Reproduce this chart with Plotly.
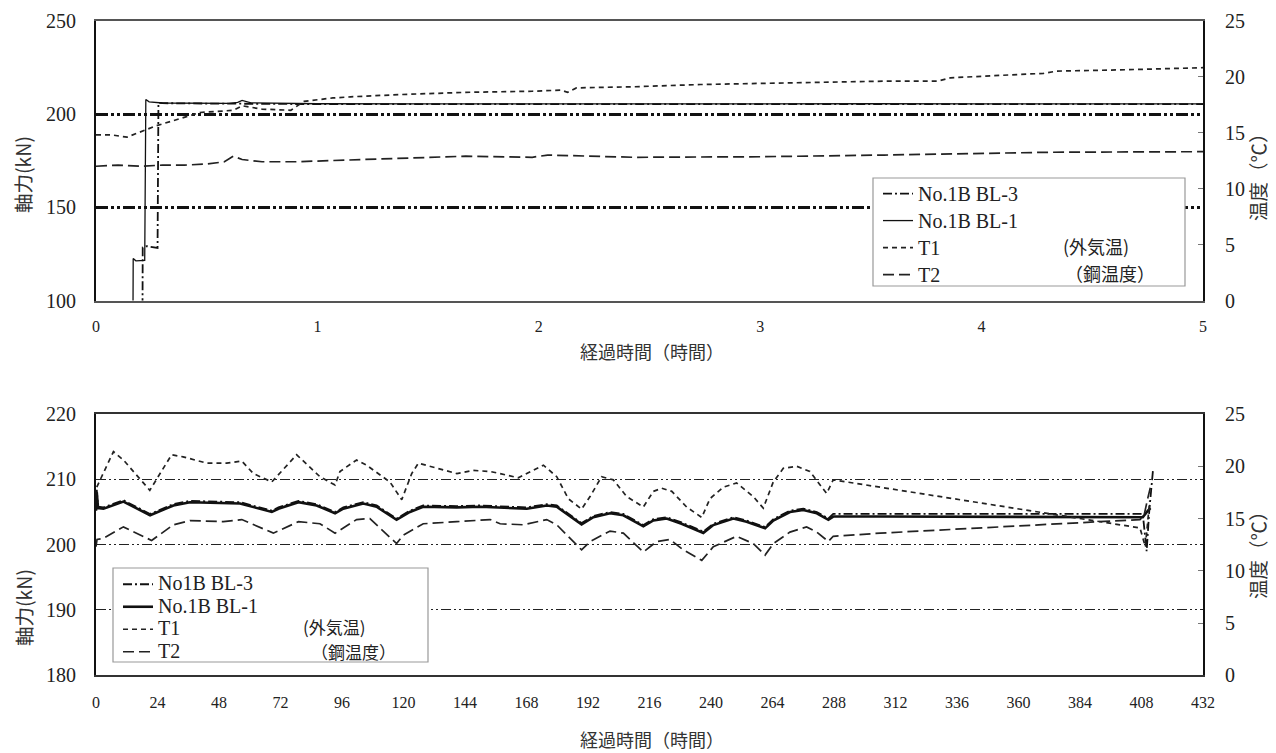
import plotly.graph_objects as go

# The page body has an 8px margin: the figure is sized so page == 1276x753 window.
PAGE_W, PAGE_H = 1276, 753
OFF = 8
W, H = PAGE_W - OFF, PAGE_H - OFF

# ---------------- Top chart (0-5 hours) ----------------
top_bl3_hours = [0.209, 0.211, 0.23, 0.26, 0.278, 0.282, 0.30, 0.5, 0.7, 1.0, 2.0, 3.0, 4.0, 5.0]
top_bl3_kn = [60, 128.5, 129.2, 128.5, 128.2, 206.0, 205.8, 205.6, 205.5, 205.3, 205.3, 205.2, 205.3, 205.3]

top_bl1_hours = [0.166, 0.168, 0.18, 0.20, 0.22, 0.225, 0.24, 0.30, 0.45, 0.60, 0.64, 0.66, 0.70,
                 0.80, 0.90, 1.0, 1.5, 2.0, 2.5, 3.0, 3.5, 4.0, 4.5, 5.0]
top_bl1_kn = [60, 122.6, 121.3, 121.3, 121.5, 207.8, 206.5, 205.9, 205.8, 205.7, 206.2, 207.3, 206.0,
              205.7, 205.4, 205.5, 205.4, 205.5, 205.4, 205.4, 205.5, 205.4, 205.5, 205.4]

top_t1_hours = [0, 0.07, 0.14, 0.27, 0.42, 0.47, 0.55, 0.62, 0.66, 0.75, 0.88, 0.94, 1.07, 1.15,
                1.37, 1.67, 1.97, 2.10, 2.13, 2.17, 2.43, 2.73, 3.0, 3.26, 3.56, 3.80, 3.86, 4.28,
                4.34, 4.61, 5.0]
top_t1_c = [14.8, 14.8, 14.6, 15.6, 16.5, 16.8, 16.9, 17.0, 17.4, 17.1, 17.0, 17.8, 18.1, 18.2,
            18.4, 18.6, 18.7, 18.8, 18.6, 19.0, 19.1, 19.3, 19.4, 19.5, 19.6, 19.6, 19.9, 20.3,
            20.5, 20.6, 20.8]

top_t2_hours = [0, 0.1, 0.2, 0.3, 0.4, 0.5, 0.58, 0.62, 0.66, 0.75, 0.9, 1.22, 1.52, 1.67, 1.97,
                2.04, 2.43, 3.0, 3.56, 4.31, 5.0]
top_t2_c = [12.0, 12.1, 12.0, 12.1, 12.1, 12.2, 12.4, 12.9, 12.6, 12.4, 12.4, 12.6, 12.8, 12.9, 12.8,
            13.0, 12.8, 12.85, 13.0, 13.25, 13.3]

top_x_ticks = [0, 1, 2, 3, 4, 5]
top_y_ticks = [100, 150, 200, 250]
temp_ticks = [0, 5, 10, 15, 20, 25]

# ---------------- Bottom chart (0-432 hours) ----------------
bot_bl1_hours = [0, 0.3, 0.8, 2.9, 10.7, 21.1, 30.2, 36.7, 56.2, 68.6, 71.2, 79, 86.1, 93.3, 96.5,
                 104.3, 109.5, 117.3, 122.5, 127.7, 140.8, 150, 168.1, 175.9, 179.8, 189.5, 194.1,
                 200.6, 205.8, 213.6, 217.5, 222.7, 228.5, 237, 240.9, 248.7, 253.9, 261.1, 264.3,
                 270.8, 276, 281.3, 285.8, 287.7, 306, 408.5, 410.5, 411.5]
bot_bl1_kn = [205.2, 208.0, 205.6, 205.5, 206.6, 204.5, 206.0, 206.5, 206.3, 205.0, 205.5, 206.5,
              206.0, 204.8, 205.5, 206.3, 205.8, 203.8, 205.0, 205.8, 205.7, 205.8, 205.5, 206.0,
              205.8, 203.1, 204.2, 204.8, 204.5, 202.8, 203.7, 204.0, 203.2, 201.8, 203.0, 204.0,
              203.5, 202.5, 203.7, 205.0, 205.3, 204.8, 203.8, 204.3, 204.3, 204.2, 205.2, 205.6]

bot_bl3_hours = [0, 0.3, 0.8, 2.9, 10.7, 21.1, 30.2, 36.7, 56.2, 68.6, 71.2, 79, 86.1, 93.3, 96.5,
                 104.3, 109.5, 117.3, 122.5, 127.7, 140.8, 150, 168.1, 175.9, 179.8, 189.5, 194.1,
                 200.6, 205.8, 213.6, 217.5, 222.7, 228.5, 237, 240.9, 248.7, 253.9, 261.1, 264.3,
                 270.8, 276, 281.3, 285.8, 287.7, 306, 408.5, 410, 411, 412.5]
bot_bl3_kn = [205.5, 208.4, 205.8, 205.7, 206.8, 204.7, 206.2, 206.7, 206.5, 205.2, 205.7, 206.7,
              206.2, 205.0, 205.7, 206.5, 206.0, 204.0, 205.2, 206.0, 205.9, 206.0, 205.7, 206.2,
              206.0, 203.3, 204.4, 205.0, 204.7, 203.0, 203.9, 204.2, 203.4, 202.0, 203.2, 204.2,
              203.7, 202.7, 203.9, 205.2, 205.5, 205.0, 204.0, 204.7, 204.7, 204.7, 199.0, 205.0,
              211.5]

bot_t1_hours = [0.3, 6.8, 10.7, 21, 29.5, 34, 43.2, 51, 56.9, 61.4, 68.6, 78.3, 87.4, 93.3, 95.2,
                101.7, 105.6, 114.7, 119.3, 123.2, 125.8, 133, 140.8, 147.2, 153.8, 157.7, 164.8,
                174.6, 179.8, 184.3, 189.5, 192.8, 197.3, 201.9, 207.1, 213.6, 217.5, 220.8, 224.7,
                230.5, 236.4, 239.6, 244.8, 250, 256.5, 260.4, 264.3, 268.2, 273.4, 278.6, 285.1,
                287.7, 407.4, 409.5, 410.5, 411.2]
bot_t1_c = [18.0, 21.4, 20.6, 17.7, 21.1, 20.9, 20.3, 20.3, 20.5, 19.3, 18.5, 21.1, 19.0, 18.2, 19.5,
            20.6, 20.1, 18.5, 16.8, 19.3, 20.3, 19.8, 19.3, 19.6, 19.5, 19.3, 18.9,
            20.1, 19.0, 16.9, 15.9, 17.1, 19.0, 18.7, 17.1, 16.1, 17.6, 17.9, 17.6,
            16.1, 15.1, 16.9, 18.0, 18.4, 17.1, 16.0, 18.5, 19.8, 20.0, 19.5, 17.4,
            18.7, 14.1, 12.3, 15.0, 16.7]

bot_t2_hours = [0, 0.4, 2.9, 10.7, 21.7, 30.2, 36.7, 49.7, 56.9, 61.4, 69.2, 79, 87.4, 93.3, 101.7,
                106.9, 117.3, 119.9, 127.7, 140.8, 153.8, 157.7, 166.8, 175.9, 179.8, 189.5,
                192.8, 200.6, 205.8, 213.6, 218.8, 224, 229.2, 236.4, 240.9, 250, 256.5, 261.1,
                264.3, 270.8, 277.3, 281.3, 285.8, 287.7, 306, 407.4, 409, 410.5, 411.5]
bot_t2_c = [12.3, 13.0, 13.1, 14.2, 12.9, 14.4, 14.8, 14.7, 14.9, 14.4, 13.6, 14.7, 14.5, 13.6, 14.9,
            15.0, 12.6, 13.4, 14.5, 14.7, 14.9, 14.5, 14.4, 14.9, 14.4, 12.0,
            12.8, 13.8, 13.6, 11.8, 12.8, 13.0, 12.0, 11.0, 12.3, 13.3, 12.6, 11.5,
            12.6, 13.7, 14.2, 13.7, 12.8, 13.3, 13.6, 14.9, 15.3, 17.0, 18.0]

bot_x_ticks = list(range(0, 433, 24))
bot_y_ticks = [180, 190, 200, 210, 220]

legend_names_top = ["No.1B BL-3", "No.1B BL-1", "T1", "T2"]
legend_names_bot = ["No1B BL-3", "No.1B BL-1", "T1", "T2"]
legend_notes = ["(外気温)", "（鋼温度）"]

x_title = "経過時間（時間）"
y_title_left = "軸力(kN)"
y_title_right = "温度（℃）"

# ---------------- helpers (page pixel -> paper fraction) ----------------
def fx(px):
    return (px - OFF) / W

def fy(py):
    return 1 - (py - OFF) / H

def big(name):
    return '<span style="font-size:20px">' + name + '</span>'

SERIF = "Liberation Serif, Times New Roman, serif"
CJK = "Noto Sans CJK JP, sans-serif"
INK = "#222222"

BL3_DASH = "9px,3px,2px,3px"
T1_DASH = "5px,4px"
T2_DASH = "11px,5px"

fig = go.Figure()

# top traces
fig.add_trace(go.Scatter(x=top_bl3_hours, y=top_bl3_kn, mode="lines", name=big(legend_names_top[0]),
                         line=dict(color="#111111", width=1.8, dash=BL3_DASH),
                         xaxis="x", yaxis="y", legend="legend"))
fig.add_trace(go.Scatter(x=top_bl1_hours, y=top_bl1_kn, mode="lines", name=big(legend_names_top[1]),
                         line=dict(color="#111111", width=1.3),
                         xaxis="x", yaxis="y", legend="legend"))
fig.add_trace(go.Scatter(x=top_t1_hours, y=top_t1_c, mode="lines", name=big(legend_names_top[2]),
                         line=dict(color="#222222", width=1.7, dash=T1_DASH),
                         xaxis="x", yaxis="y2", legend="legend"))
fig.add_trace(go.Scatter(x=top_t2_hours, y=top_t2_c, mode="lines", name=big(legend_names_top[3]),
                         line=dict(color="#222222", width=1.7, dash=T2_DASH),
                         xaxis="x", yaxis="y2", legend="legend"))

# bottom traces
fig.add_trace(go.Scatter(x=bot_bl3_hours, y=bot_bl3_kn, mode="lines", name=big(legend_names_bot[0]),
                         line=dict(color="#111111", width=1.8, dash=BL3_DASH),
                         xaxis="x2", yaxis="y3", legend="legend2"))
fig.add_trace(go.Scatter(x=bot_bl1_hours, y=bot_bl1_kn, mode="lines", name=big(legend_names_bot[1]),
                         line=dict(color="#111111", width=2.6),
                         xaxis="x2", yaxis="y3", legend="legend2"))
fig.add_trace(go.Scatter(x=bot_t1_hours, y=bot_t1_c, mode="lines", name=big(legend_names_bot[2]),
                         line=dict(color="#222222", width=1.7, dash=T1_DASH),
                         xaxis="x2", yaxis="y4", legend="legend2"))
fig.add_trace(go.Scatter(x=bot_t2_hours, y=bot_t2_c, mode="lines", name=big(legend_names_bot[3]),
                         line=dict(color="#222222", width=1.7, dash=T2_DASH),
                         xaxis="x2", yaxis="y4", legend="legend2"))

XDOM = [fx(96), fx(1203)]
TOP_DOM = [fy(300.6), fy(20.7)]
BOT_DOM = [fy(675.3), fy(414)]

tick_x_font = dict(family=SERIF, size=16, color=INK)
tick_y_font = dict(family=SERIF, size=20, color=INK)

fig.update_layout(
    width=W, height=H,
    margin=dict(l=0, r=0, t=0, b=0, pad=0, autoexpand=False),
    paper_bgcolor="white", plot_bgcolor="white",
    showlegend=True,
    xaxis=dict(domain=XDOM, anchor="y", range=[0, 5], tickmode="array", tickvals=top_x_ticks,
               showgrid=False, zeroline=False, showline=True, mirror=True, automargin=False,
               linecolor="#555555", linewidth=1.5, ticks="", tickfont=tick_x_font,
               ticklabelstandoff=10),
    yaxis=dict(domain=TOP_DOM, anchor="x", range=[100, 250], tickmode="array", tickvals=top_y_ticks,
               showgrid=True, gridcolor="#111111", gridwidth=2.6,
               griddash="12px,3px,3px,3px,3px,3px", automargin=False,
               zeroline=False, showline=True, linecolor="#111111", linewidth=2,
               ticks="", tickfont=tick_y_font, ticklabelstandoff=14),
    yaxis2=dict(overlaying="y", side="right", anchor="x", range=[0, 25], tickmode="array",
                tickvals=temp_ticks, showgrid=False, zeroline=False, showline=True, automargin=False,
                linecolor="#111111", linewidth=2, ticks="inside", ticklen=5, tickcolor="#777777",
                tickfont=tick_y_font, ticklabelstandoff=16),
    xaxis2=dict(domain=XDOM, anchor="y3", range=[0, 432], tickmode="array", tickvals=bot_x_ticks,
                showgrid=False, zeroline=False, showline=True, mirror=True, automargin=False,
                linecolor="#333333", linewidth=2, ticks="", tickfont=tick_x_font,
                ticklabelstandoff=11),
    yaxis3=dict(domain=BOT_DOM, anchor="x2", range=[180, 220], tickmode="array", tickvals=bot_y_ticks,
                showgrid=True, gridcolor="#222222", gridwidth=1.2,
                griddash="10px,3px,2px,3px,2px,3px", automargin=False,
                zeroline=False, showline=True, linecolor="#111111", linewidth=2,
                ticks="", tickfont=tick_y_font, ticklabelstandoff=14),
    yaxis4=dict(overlaying="y3", side="right", anchor="x2", range=[0, 25], tickmode="array",
                tickvals=temp_ticks, showgrid=False, zeroline=False, showline=True, automargin=False,
                linecolor="#111111", linewidth=2, ticks="inside", ticklen=5, tickcolor="#777777",
                tickfont=tick_y_font, ticklabelstandoff=16),
    legend=dict(x=fx(878), y=fy(175), xanchor="left", yanchor="top", bgcolor="rgba(0,0,0,0)",
                borderwidth=0, font=dict(family=SERIF, size=18.5, color=INK), itemwidth=30,
                tracegroupgap=0),
    legend2=dict(x=fx(118), y=fy(568), xanchor="left", yanchor="top", bgcolor="rgba(0,0,0,0)",
                 borderwidth=0, font=dict(family=SERIF, size=15, color=INK), itemwidth=30,
                 tracegroupgap=0),
)

# legend boxes (white fill hides the dashed grid behind)
fig.add_shape(type="rect", xref="paper", yref="paper", x0=fx(873), x1=fx(1185), y0=fy(286), y1=fy(178),
              line=dict(color="#999999", width=1.2), fillcolor="white", layer="above")
fig.add_shape(type="rect", xref="paper", yref="paper", x0=fx(113), x1=fx(428), y0=fy(662), y1=fy(568),
              line=dict(color="#999999", width=1.2), fillcolor="white", layer="above")

ann = []
# legend notes
ann.append(dict(text=legend_notes[0], x=fx(1062), y=fy(246), xanchor="left", yanchor="middle", size=18))
ann.append(dict(text=legend_notes[1], x=fx(1064), y=fy(273), xanchor="left", yanchor="middle", size=18))
ann.append(dict(text=legend_notes[0], x=fx(302), y=fy(626), xanchor="left", yanchor="middle", size=17))
ann.append(dict(text=legend_notes[1], x=fx(310), y=fy(651), xanchor="left", yanchor="middle", size=17))
for a in ann:
    s = a.pop("size")
    a.update(xref="paper", yref="paper", showarrow=False, borderpad=0,
             font=dict(family=CJK, size=s, color=INK))

titles = [
    dict(text=x_title, x=fx(652), y=fy(351), textangle=0, size=18),
    dict(text=x_title, x=fx(652), y=fy(739), textangle=0, size=18),
    dict(text=y_title_left, x=fx(23), y=fy(175), textangle=-90, size=19.5),
    dict(text=y_title_left, x=fx(23), y=fy(608), textangle=-90, size=19.5),
    dict(text=y_title_right, x=fx(1257), y=fy(172), textangle=-90, size=19.5),
    dict(text=y_title_right, x=fx(1257), y=fy(550), textangle=-90, size=19.5),
]
for t in titles:
    s = t.pop("size")
    t.update(xref="paper", yref="paper", showarrow=False, xanchor="center", yanchor="middle",
             borderpad=0, font=dict(family=CJK, size=s, color="#333333"))

fig.update_layout(annotations=ann + titles)

fig.write_html("out.html")
